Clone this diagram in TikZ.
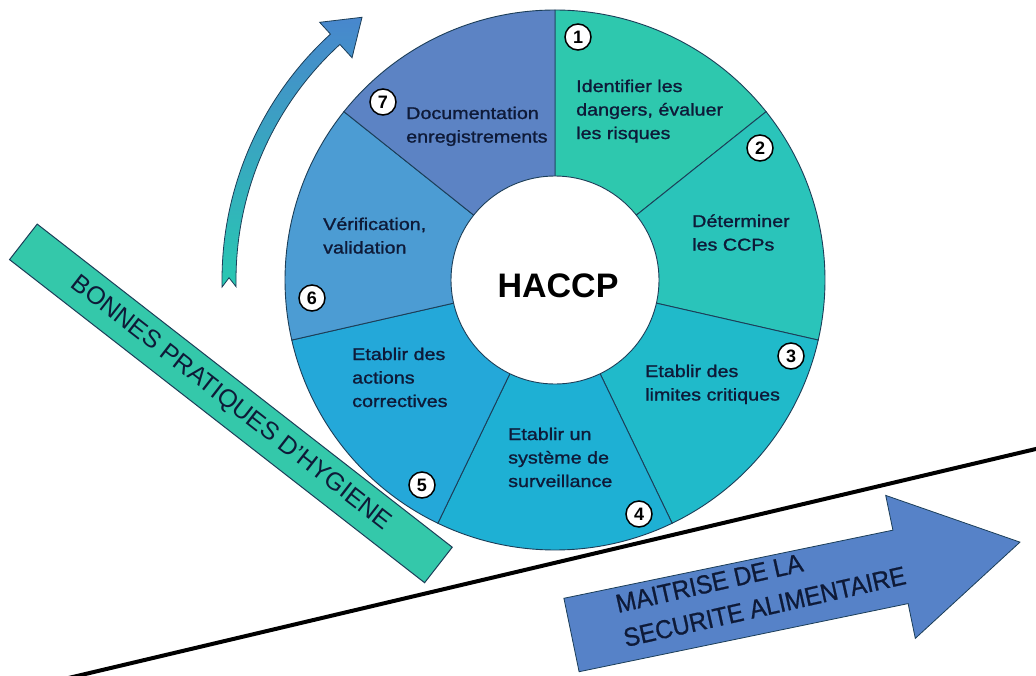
\documentclass[tikz,border=0pt]{standalone}
\usepackage{fontspec}
\setmainfont{Liberation Sans}
\newfontfamily\widefont{Liberation Sans}[FakeStretch=1.16, FakeBold=1.2]
\newfontfamily\narrowfont{Liberation Sans}[FakeStretch=0.93, FakeBold=0.8]
\definecolor{segA}{RGB}{46,200,174}
\definecolor{segB}{RGB}{42,196,186}
\definecolor{segC}{RGB}{32,186,202}
\definecolor{segD}{RGB}{30,176,212}
\definecolor{segE}{RGB}{36,168,217}
\definecolor{segF}{RGB}{76,156,211}
\definecolor{segG}{RGB}{92,131,196}
\definecolor{bandc}{RGB}{52,200,170}
\definecolor{bigc}{RGB}{86,130,200}
\definecolor{arrTop}{RGB}{72,135,205}
\definecolor{arrBot}{RGB}{40,200,178}
\definecolor{txt}{RGB}{14,26,56}
\definecolor{edge}{RGB}{28,62,88}
\newcommand{\stk}[1]{\begin{tabular}[t]{@{}l@{}}#1\end{tabular}}
\tikzset{
  seglabel/.style={anchor=base west, inner sep=0pt, text=txt, font=\widefont\fontsize{17}{23.5}\selectfont},
  numc/.style={circle, draw=black, line width=1.5pt, fill=white, minimum size=26pt, inner sep=0pt, font=\bfseries\fontsize{18}{18}\selectfont},
  sector/.style={draw=edge, line width=0.9pt},
  band/.style={draw=edge, line width=1pt, fill=bandc, inner sep=0pt, text=txt, font=\fontsize{25}{28}\selectfont},
}
\begin{document}
\begin{tikzpicture}[x=1pt,y=1pt]
\useasboundingbox (0,0) rectangle (1036,-675);
\clip (0,0) rectangle (1036,-675);
\fill[white] (0,0) rectangle (1036,-675);
% wheel sectors
\foreach \i/\c in {0/segA,1/segB,2/segC,3/segD,4/segE,5/segF,6/segG} {
  \pgfmathsetmacro\aS{90-\i*360/7}
  \pgfmathsetmacro\aE{90-(\i+1)*360/7}
  \filldraw[sector, fill=\c] (555,-280) -- ++(\aS:270) arc[start angle=\aS, end angle=\aE, radius=270pt] -- cycle;
}
\filldraw[sector, fill=white] (555,-280) circle[radius=104pt];
\node[inner sep=0pt, font=\bfseries\fontsize{34}{40}\selectfont] (haccp) at (558,-286) {HACCP};
% segment texts
\node[seglabel] (t1) at (576,-92) {\stk{Identifier les\\dangers, évaluer\\les risques}};
\node[seglabel] (t2) at (692,-227) {\stk{Déterminer\\les CCPs}};
\node[seglabel] (t3) at (645,-377) {\stk{Etablir des\\limites critiques}};
\node[seglabel] (t4) at (508,-440) {\stk{Etablir un\\système de\\surveillance}};
\node[seglabel] (t5) at (352,-360) {\stk{Etablir des\\actions\\correctives}};
\node[seglabel] (t6) at (323,-230) {\stk{Vérification,\\validation}};
\node[seglabel] (t7) at (406,-119) {\stk{Documentation\\enregistrements}};
% numbers
\node[numc] (n1) at (578,-37) {1};
\node[numc] (n2) at (760,-148) {2};
\node[numc] (n3) at (791,-356) {3};
\node[numc] (n4) at (639,-514) {4};
\node[numc] (n5) at (422,-485) {5};
\node[numc] (n6) at (312,-298) {6};
\node[numc] (n7) at (383,-102) {7};
% curved arrow
\begin{scope}[shift={(555,-280)}]
\shade[top color=arrTop, bottom color=arrBot, draw=edge, line width=0.8pt]
  (181.2:333) arc[start angle=181.2, end angle=132.4, radius=333pt]
  -- (132.4:349) -- (126.3:326) -- (132.4:301) -- (132.4:319)
  arc[start angle=132.4, end angle=181.2, radius=319pt]
  -- (179.6:326) -- cycle;
\end{scope}
% band
\node[band, rotate=-37.9, minimum width=526pt, minimum height=45pt] (bph) at (230.9,-403.4) {BONNES PRATIQUES D'HYGIENE};
% base line
\coordinate (l1) at (60,-680);
\coordinate (l2) at (1040,-448);
\draw[black, line width=4pt] (l1) -- (l2);
% big arrow
\begin{scope}[shift={(571.5,-635)}, rotate=11.7]
\filldraw[fill=bigc, draw=edge, line width=0.8pt] (0,-37.5) -- (336,-37.5) -- (336,-73) -- (458,0) -- (336,73) -- (336,37.5) -- (0,37.5) -- cycle;
\end{scope}
\node[rotate=12.7, anchor=base west, inner sep=0pt, text=txt, font=\narrowfont\fontsize{26}{35}\selectfont] (mait) at (618,-613) {\stk{MAITRISE DE LA\\SECURITE ALIMENTAIRE}};
\end{tikzpicture}
\end{document}
